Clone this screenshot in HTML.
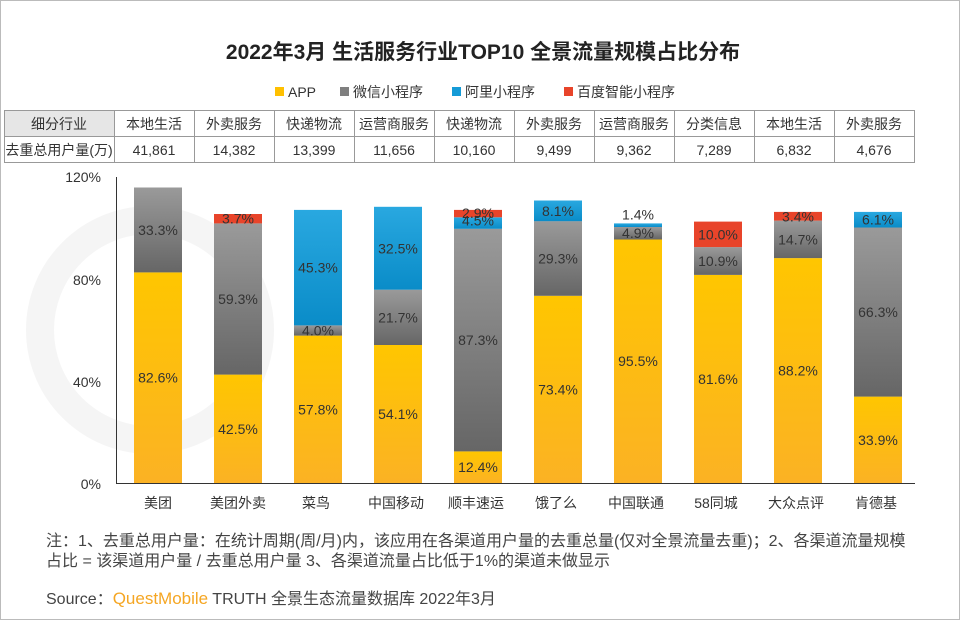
<!DOCTYPE html>
<html><head><meta charset="utf-8"><style>
body{margin:0;background:#fff;}
svg text{font-family:"Liberation Sans","Noto Sans CJK SC",sans-serif;}
</style></head><body>
<svg width="960" height="620" viewBox="0 0 960 620" xmlns="http://www.w3.org/2000/svg">
<defs>
<linearGradient id="gy" x1="0" y1="0" x2="0" y2="1"><stop offset="0" stop-color="#FFC600"/><stop offset="1" stop-color="#FBB224"/></linearGradient>
<linearGradient id="gg" x1="0" y1="0" x2="0" y2="1"><stop offset="0" stop-color="#9a9a9a"/><stop offset="1" stop-color="#666"/></linearGradient>
<linearGradient id="gb" x1="0" y1="0" x2="0" y2="1"><stop offset="0" stop-color="#29A8E0"/><stop offset="1" stop-color="#0A8CC8"/></linearGradient>
</defs>
<rect x="0.5" y="0.5" width="959" height="619" fill="#fff" stroke="#bbb"/>
<circle cx="150" cy="330" r="110" fill="none" stroke="#f5f5f5" stroke-width="28"/>
<text x="483" y="59" text-anchor="middle" font-size="21" font-weight="bold" fill="#222">2022年3月 生活服务行业TOP10 全景流量规模占比分布</text>
<g font-size="14" fill="#333">
<rect x="275" y="87" width="9" height="9" fill="#FFC000"/><text x="288" y="97">APP</text>
<rect x="340" y="87" width="9" height="9" fill="#7f7f7f"/><text x="353" y="97">微信小程序</text>
<rect x="452" y="87" width="9" height="9" fill="#159BD7"/><text x="465" y="97">阿里小程序</text>
<rect x="564" y="87" width="9" height="9" fill="#E8442A"/><text x="577" y="97">百度智能小程序</text>
</g>
<g stroke="#999" stroke-width="1" fill="none">
<rect x="4.5" y="110.5" width="910" height="52"/>
<rect x="4.5" y="110.5" width="110" height="26" fill="#e6e6e6"/>
<line x1="4" y1="136.5" x2="915" y2="136.5"/>
<line x1="114.5" y1="110" x2="114.5" y2="163"/><line x1="194.5" y1="110" x2="194.5" y2="163"/><line x1="274.5" y1="110" x2="274.5" y2="163"/><line x1="354.5" y1="110" x2="354.5" y2="163"/><line x1="434.5" y1="110" x2="434.5" y2="163"/><line x1="514.5" y1="110" x2="514.5" y2="163"/><line x1="594.5" y1="110" x2="594.5" y2="163"/><line x1="674.5" y1="110" x2="674.5" y2="163"/><line x1="754.5" y1="110" x2="754.5" y2="163"/><line x1="834.5" y1="110" x2="834.5" y2="163"/>
</g>
<g font-size="14" fill="#333" text-anchor="middle">
<text x="59" y="129">细分行业</text><text x="59" y="155">去重总用户量(万)</text>
<text x="154" y="129">本地生活</text><text x="234" y="129">外卖服务</text><text x="314" y="129">快递物流</text><text x="394" y="129">运营商服务</text><text x="474" y="129">快递物流</text><text x="554" y="129">外卖服务</text><text x="634" y="129">运营商服务</text><text x="714" y="129">分类信息</text><text x="794" y="129">本地生活</text><text x="874" y="129">外卖服务</text>
<text x="154" y="155">41,861</text><text x="234" y="155">14,382</text><text x="314" y="155">13,399</text><text x="394" y="155">11,656</text><text x="474" y="155">10,160</text><text x="554" y="155">9,499</text><text x="634" y="155">9,362</text><text x="714" y="155">7,289</text><text x="794" y="155">6,832</text><text x="874" y="155">4,676</text>
</g>
<g font-size="14" fill="#333" text-anchor="end">
<text x="101" y="182">120%</text><text x="101" y="285">80%</text><text x="101" y="387">40%</text><text x="101" y="489">0%</text>
</g>
<line x1="116.5" y1="177" x2="116.5" y2="484" stroke="#333"/>
<line x1="116" y1="483.5" x2="915" y2="483.5" stroke="#333"/>
<g id="bars" font-size="14" fill="#333" text-anchor="middle"></g>
<g font-size="14" fill="#333" text-anchor="middle">
<text x="158" y="508">美团</text><text x="238" y="508">美团外卖</text><text x="316" y="508">菜鸟</text><text x="396" y="508">中国移动</text><text x="476" y="508">顺丰速运</text><text x="556" y="508">饿了么</text><text x="636" y="508">中国联通</text><text x="716" y="508">58同城</text><text x="796" y="508">大众点评</text><text x="876" y="508">肯德基</text>
</g>
<g font-size="16" fill="#444">
<text x="46" y="546">注：1、去重总用户量：在统计周期(周/月)内，该应用在各渠道用户量的去重总量(仅对全景流量去重)；2、各渠道流量规模</text>
<text x="46" y="566">占比 = 该渠道用户量 / 去重总用户量 3、各渠道流量占比低于1%的渠道未做显示</text>
<text x="46" y="604">Source：<tspan fill="#F5A623" font-size="17">QuestMobile</tspan> TRUTH 全景生态流量数据库 2022年3月</text>
</g>
</svg>
<script>
var d=[[82.6,33.3,0,0],[42.5,59.3,0,3.7],[57.8,4.0,45.3,0],[54.1,21.7,32.5,0],[12.4,87.3,4.5,2.9],[73.4,29.3,8.1,0],[95.5,4.9,1.4,0],[81.6,10.9,0,10.0],[88.2,14.7,0,3.4],[33.9,66.3,6.1,0]];
var fills=["url(#gy)","url(#gg)","url(#gb)","#E8442A"];
var g=document.getElementById("bars"),s="";
var y0=483,k=2.55;
d.forEach(function(b,i){var cx=158+80*i,x=cx-24,cum=0;
b.forEach(function(v,j){if(!v)return;var top=y0-(cum+v)*k,h=v*k;
s+='<rect x="'+x+'" y="'+top.toFixed(1)+'" width="48" height="'+h.toFixed(1)+'" fill="'+fills[j]+'"/>';cum+=v;});
cum=0;b.forEach(function(v,j){if(!v)return;var mid=y0-(cum+v/2)*k;
if(i==6&&j==2)mid=y0-(cum+v)*k-9;
if(i==4&&j==2)mid=y0-(cum+v)*k+3;
if(i==4&&j==3)mid=y0-(cum+v)*k+3;
s+='<text x="'+cx+'" y="'+(mid+5).toFixed(1)+'">'+v.toFixed(1)+'%</text>';cum+=v;});});
g.innerHTML=s;
</script>
</body></html>
